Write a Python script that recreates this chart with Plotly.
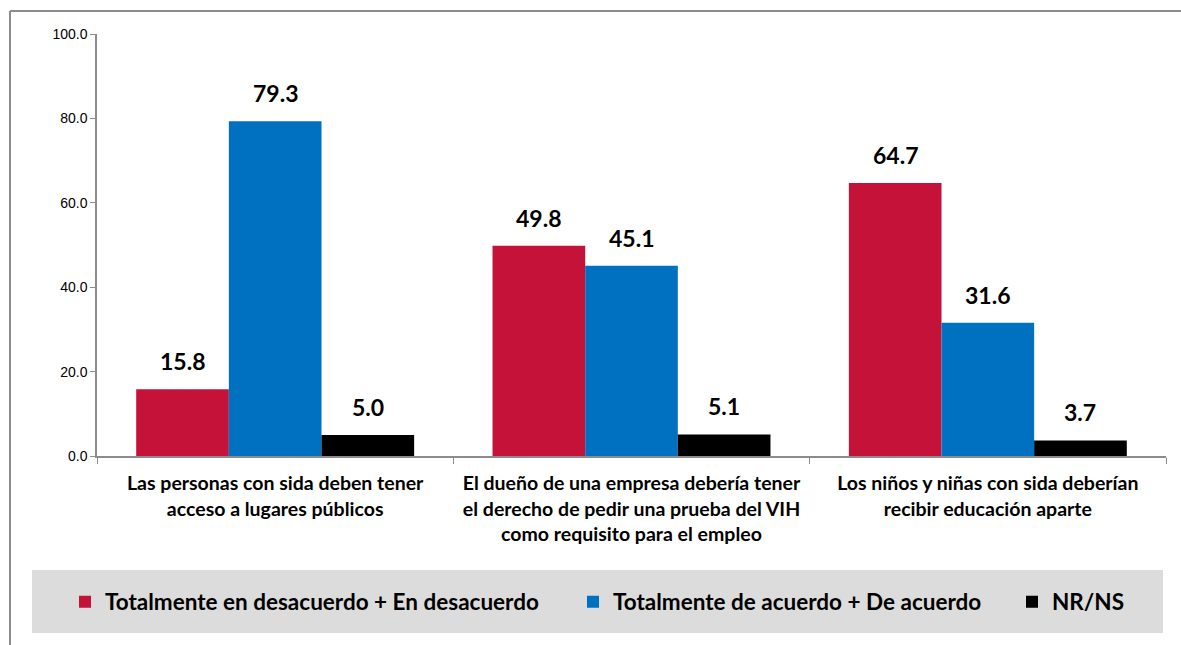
import plotly.graph_objects as go

categories = [
    "Las personas con sida deben tener<br>acceso a lugares públicos",
    "El dueño de una empresa debería tener<br>el derecho de pedir una prueba del VIH<br>como requisito para el empleo",
    "Los niños y niñas con sida deberían<br>recibir educación aparte",
]
series_names = [
    "Totalmente en desacuerdo + En desacuerdo",
    "Totalmente de acuerdo + De acuerdo",
    "NR/NS",
]
desacuerdo = [15.8, 49.8, 64.7]
acuerdo = [79.3, 45.1, 31.6]
nrns = [5.0, 5.1, 3.7]
colors = ["#C41239", "#0070C0", "#000000"]

all_values = [desacuerdo, acuerdo, nrns]

W, H = 1181, 645
L, R, T, B = 97, 15, 34, 189
pw, ph = W - L - R, H - T - B
BARGAP = 0.22
bar_px = pw / len(categories) * (1 - BARGAP) / len(all_values)

FONT = "Lato, Carlito, sans-serif"

def px_x(x):
    return (x - L) / pw

def px_y(y):
    return (H - B - y) / ph

legend_ids = ["legend", "legend2", "legend3"]
legend_text_start = [105, 613, 1052]

fig = go.Figure()
annotations = []
for si, (name, vals, col) in enumerate(zip(series_names, all_values, colors)):
    fig.add_trace(go.Bar(
        x=categories, y=vals, name=name, marker=dict(color=col, line=dict(width=0)),
        legend=legend_ids[si],
    ))
    for cat, v in zip(categories, vals):
        annotations.append(dict(
            x=cat, y=v, xref="x", yref="y", text=f"<b>{v:.1f}</b>", showarrow=False,
            xanchor="center", yanchor="bottom", yshift=12,
            xshift=(si - (len(all_values) - 1) / 2) * bar_px,
            font=dict(family=FONT, size=23, color="#000000"),
        ))

shapes = [
    dict(type="line", xref="paper", yref="paper", x0=px_x(10), x1=px_x(10), y0=px_y(11), y1=px_y(660),
         line=dict(color="#8C8C8C", width=2)),
    dict(type="line", xref="paper", yref="paper", x0=px_x(10), x1=px_x(1200), y0=px_y(11), y1=px_y(11),
         line=dict(color="#8C8C8C", width=2)),
    dict(type="rect", xref="paper", yref="paper", x0=px_x(32), x1=px_x(1163), y0=px_y(570), y1=px_y(633),
         fillcolor="#DCDCDC", line=dict(width=0), layer="below"),
]

legend_common = dict(
    orientation="h", yanchor="middle", y=px_y(602), xanchor="left", xref="paper",
    bgcolor="rgba(0,0,0,0)", borderwidth=0,
    font=dict(family=FONT, size=22.5, color="#000000", weight="bold"),
)
legends = {}
for lid, ts in zip(legend_ids, legend_text_start):
    legends[lid] = dict(legend_common, x=px_x(ts - 40))

fig.update_layout(
    width=W, height=H,
    margin=dict(l=L, r=R, t=T, b=B),
    paper_bgcolor="white", plot_bgcolor="white",
    barmode="group", bargap=BARGAP, bargroupgap=0,
    shapes=shapes,
    annotations=annotations,
    showlegend=True,
    font=dict(family=FONT),
    **legends,
)
fig.update_yaxes(
    range=[0, 100], dtick=20, tickformat=".1f", showgrid=False, zeroline=False,
    showline=True, linecolor="#8C8C8C", linewidth=1.5,
    ticks="outside", ticklen=5, tickcolor="#8C8C8C",
    tickfont=dict(family="Liberation Sans, Arial, sans-serif", size=14, color="#000000"),
)
fig.update_xaxes(
    showline=True, linecolor="#8C8C8C", linewidth=1.5,
    ticks="outside", tickson="boundaries", ticklen=6, tickcolor="#8C8C8C",
    tickfont=dict(family=FONT, size=19.5, color="#000000", weight="bold"),
    ticklabelstandoff=9,
    showgrid=False,
)

fig.write_html("out.html", config={"displayModeBar": False},
               post_script="document.body.style.margin='0';")
